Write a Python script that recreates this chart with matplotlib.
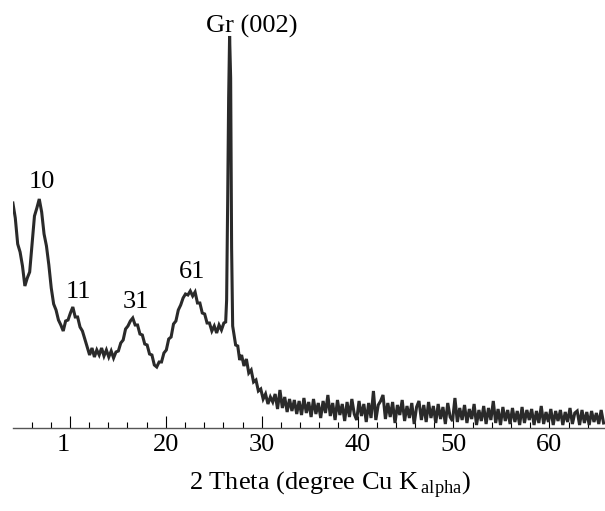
import numpy as np
import matplotlib
matplotlib.use("Agg")
import matplotlib.pyplot as plt
from matplotlib.ticker import FixedLocator, MultipleLocator

plt.rcParams['font.family'] = ['Liberation Serif', 'DejaVu Serif']
plt.rcParams['mathtext.fontset'] = 'custom'
plt.rcParams['mathtext.rm'] = 'Liberation Serif'

# ---- data (2 theta, intensity in arbitrary units) ----
main_start, main_step = 4.05, 0.25
main_intensity = [225, 210, 184, 176, 162, 142, 150, 156, 184, 212,
                  220, 229, 216, 194, 182, 163, 140, 124, 118, 108,
                  103, 97, 107, 108, 115, 121, 111, 111, 101, 97,
                  89, 81, 73, 80, 71, 78, 73, 80, 72, 78,
                  71, 77, 70, 76, 77, 85, 88, 99, 102, 107,
                  110, 103, 103, 94, 93, 84, 83, 74, 73, 63,
                  61, 66, 66, 75, 78, 89, 91, 104, 107, 118,
                  123, 130, 134, 133, 137, 132, 136, 125, 125, 115,
                  114, 105, 105, 97, 102, 95, 103, 98, 105]

peak_theta = [26.24, 26.34, 26.45, 26.55, 26.65, 26.76, 26.86, 26.97, 27.10, 27.28,
              27.50, 27.70, 27.90, 28.15, 28.40, 28.65, 28.90, 29.15, 29.40, 29.65,
              29.90, 30.15, 30.40, 30.65, 30.90]
peak_intensity = [106, 128, 228, 330, 392, 350, 180, 102, 94, 83,
                  82, 68, 73, 62, 69, 55, 58, 46, 48, 37,
                  39, 29, 34, 24, 31]

tail_start, tail_step = 31.15, 0.25
tail_intensity = [26, 34, 19, 38, 20, 31, 16, 29, 17, 28,
                  14, 27, 13, 30, 15, 26, 11, 29, 14, 25,
                  10, 27, 15, 33, 12, 25, 8, 28, 13, 24,
                  7, 26, 11, 29, 14, 8, 27, 12, 24, 6,
                  25, 10, 37, 8, 23, 27, 33, 9, 25, 11,
                  26, 5, 23, 13, 28, 7, 22, 10, 25, 4,
                  21, 27, 8, 23, 6, 26, 10, 22, 5, 24,
                  9, 21, 4, 25, 11, 7, 30, 6, 20, 8,
                  23, 5, 19, 9, 24, 3, 18, 7, 22, 4,
                  20, 8, 27, 5, 19, 3, 21, 7, 18, 4,
                  20, 6, 17, 3, 21, 5, 18, 8, 19, 3,
                  17, 5, 22, 4, 16, 6, 19, 3, 17, 7,
                  18, 3, 16, 6, 20, 4, 15, 17, 3, 18,
                  5, 16, 3, 17, 6, 15, 4, 18, 5]

peak_labels = ['10', '11', '31', '61', 'Gr (002)']
peak_label_theta = [7.07, 10.90, 16.86, 22.72, 28.93]
peak_label_level = [240, 130, 120, 150, 395]

major_ticks = [10, 20, 30, 40, 50, 60, 70]
major_tick_labels = ['1', '20', '30', '40', '50', '60', '']

# ---- build series ----
main_theta = main_start + main_step * np.arange(len(main_intensity))
tail_theta = tail_start + tail_step * np.arange(len(tail_intensity))
theta = np.concatenate([main_theta, peak_theta, tail_theta])
intensity = np.concatenate([main_intensity, peak_intensity, tail_intensity])

W, H = 605, 511
fig = plt.figure(figsize=(W / 100, H / 100), dpi=100)
ax = fig.add_axes([12.7 / W, 83 / H, (W - 12.7) / W, 398 / H])

ax.plot(theta, intensity, color='#2a2a2a', lw=2.2, solid_joinstyle='miter')

ax.set_xlim(4.03, 65.8)
ax.set_ylim(0, 398)

for s in ['left', 'right', 'top']:
    ax.spines[s].set_visible(False)
ax.spines['bottom'].set_color('#555555')
ax.spines['bottom'].set_linewidth(1.0)
ax.set_yticks([])

ax.xaxis.set_major_locator(FixedLocator(major_ticks))
ax.xaxis.set_minor_locator(MultipleLocator(2))
ax.set_xticklabels(major_tick_labels)
ax.tick_params(axis='x', which='major', direction='in', length=8.4, width=0.8,
               color='black', labelsize=19, pad=4)
ax.tick_params(axis='x', which='minor', direction='in', length=4.0, width=0.8,
               color='black')
ax.get_xticklabels()[0].set_horizontalalignment('right')

for lab, tx, ty in zip(peak_labels, peak_label_theta, peak_label_level):
    ax.text(tx, ty, lab, ha='center', va='baseline', fontsize=19, clip_on=False)

fig.text(330 / W, 1 - 490 / H, r'2 Theta (degree Cu K$_{\,\mathrm{alpha}}$)',
         ha='center', va='baseline', fontsize=19)

fig.savefig('out.png', dpi=100)
